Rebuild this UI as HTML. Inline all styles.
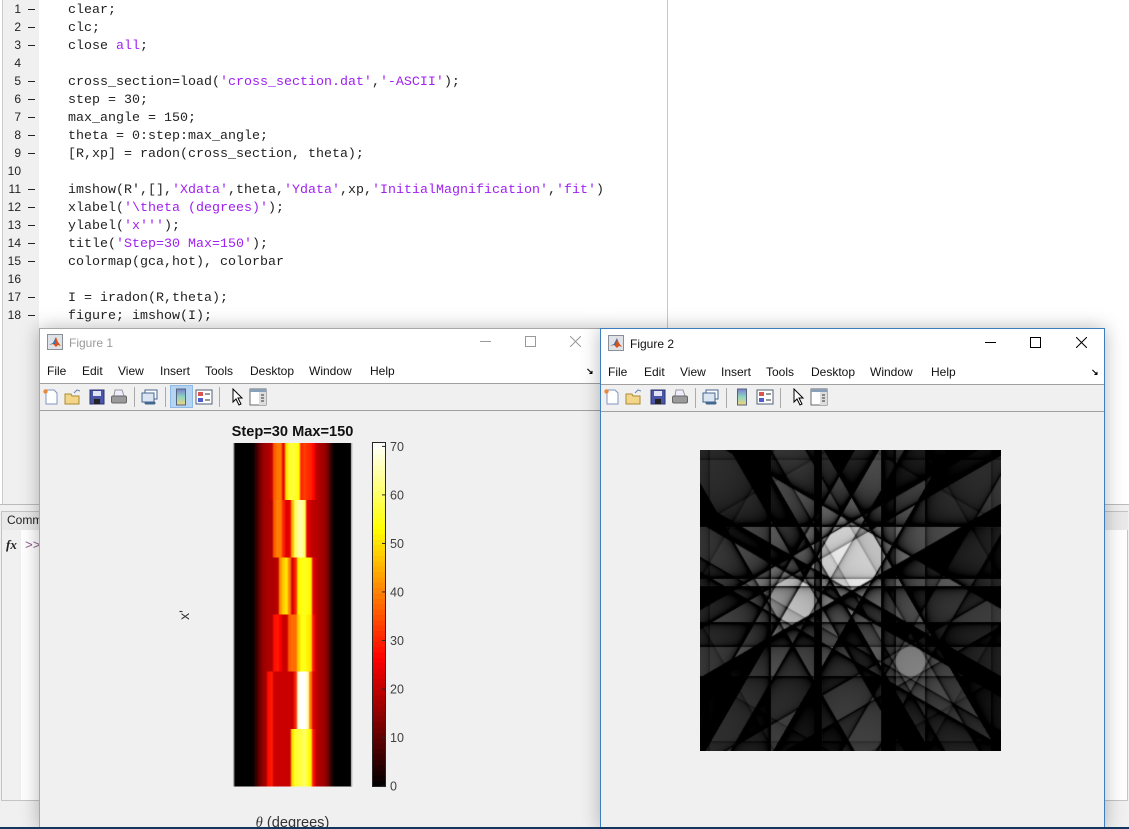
<!DOCTYPE html>
<html>
<head>
<meta charset="utf-8">
<title>MATLAB radon figures</title>
<style>
html,body{margin:0;padding:0;width:1129px;height:829px;overflow:hidden;background:#f0f0f0;font-family:"Liberation Sans",sans-serif}
.abs{position:absolute}
#editor{left:0;top:0;width:1129px;height:504px;background:#fff;border-bottom:1px solid #bbb}
#gutter{left:2px;top:0;width:36px;height:504px;background:#f0f0f0;border-left:1px solid #ccc}
.ln{position:absolute;left:0;width:21px;text-align:right;font-size:12px;line-height:18px;color:#222}
.dash{position:absolute;left:28px;width:7px;height:1px;background:#222}
.code{position:absolute;left:68px;margin-top:2px;font-family:"Liberation Mono",monospace;font-size:13.33px;line-height:18px;color:#222;white-space:pre}
.code b{font-weight:normal;color:#a020f0}
.win{position:absolute;top:328px;height:501px;background:#f0f0f0;box-sizing:border-box;box-shadow:0 0 18px rgba(0,0,0,.28)}
.bar{position:absolute;left:0;right:0;top:0;height:55px;background:#fff}
.wt{position:absolute;font-size:12px;line-height:14px;top:7px;left:29px}
.menu{position:absolute;font-size:12px;line-height:14px;color:#111;white-space:nowrap}
.sep1{position:absolute;left:0;right:0;height:1px;background:#a0a0a0}
.tsep{position:absolute;width:1px;height:20px;background:#aaa}
.ti{position:absolute;width:18px;height:18px}
</style>
</head>
<body>
<svg width="0" height="0" style="position:absolute">
<defs>
<symbol id="i-logo" viewBox="0 0 16 16"><rect x=".5" y=".5" width="15" height="15" fill="#dfe3e8" stroke="#8a8f96"/><path d="M2 11l4-2 3-6 2 5 3 4-3-1-2 2-3-3z" fill="#d9531e"/><path d="M2 11l4-2 3-6-1 7-3 0z" fill="#3a6fb0"/></symbol>
<symbol id="i-new" viewBox="0 0 18 18"><path d="M4 2h8l3 3v11H4z" fill="#fff" stroke="#7f95c0"/><circle cx="3.5" cy="3.5" r="2.2" fill="#e98a3a"/></symbol>
<symbol id="i-open" viewBox="0 0 18 18"><path d="M1 6h6l1 2h7v8H1z" fill="#f3d68a" stroke="#a98a35"/><path d="M10 5l3-3 3 1" fill="none" stroke="#6a86b8"/></symbol>
<symbol id="i-save" viewBox="0 0 18 18"><rect x="2" y="2" width="14" height="14" fill="#4a55a8" stroke="#2d3370"/><rect x="5" y="3" width="8" height="5" fill="#dfe3f5"/><rect x="6" y="11" width="6" height="5" fill="#222"/></symbol>
<symbol id="i-print" viewBox="0 0 18 18"><path d="M5 2h7l2 6H4z" fill="#eef" stroke="#999"/><rect x="1.5" y="8" width="15" height="7" rx="1.5" fill="#9a9a9a" stroke="#666"/></symbol>
<symbol id="i-link" viewBox="0 0 18 18"><rect x="4" y="2" width="12" height="9" fill="#fff" stroke="#44668f"/><rect x="1" y="5" width="12" height="9" fill="#dbe6f2" stroke="#44668f"/><path d="M5 15h8" stroke="#44668f" stroke-width="3" stroke-linecap="round"/></symbol>
<symbol id="i-cbar" viewBox="0 0 18 18"><defs><linearGradient id="cbg" x1="0" y1="0" x2="0" y2="1"><stop offset="0" stop-color="#7a7fd0"/><stop offset=".5" stop-color="#8fd6c0"/><stop offset="1" stop-color="#f4d27a"/></linearGradient></defs><rect x="4.5" y="1" width="9" height="16" fill="url(#cbg)" stroke="#56657c"/></symbol>
<symbol id="i-legend" viewBox="0 0 18 18"><rect x="1" y="2" width="16" height="14" fill="#fff" stroke="#4f5f78"/><rect x="3" y="4" width="5" height="4" fill="#d9534f"/><rect x="3" y="10" width="5" height="4" fill="#4f5fd0"/><path d="M10 6h5M10 12h5" stroke="#333"/></symbol>
<symbol id="i-arrow" viewBox="0 0 18 18"><path d="M5 1v13l3-3 3 6 2-1-3-6h4z" fill="#fff" stroke="#000"/></symbol>
<symbol id="i-dock" viewBox="0 0 18 18"><rect x="1" y="1" width="16" height="16" fill="#fff" stroke="#6a6a6a"/><rect x="1" y="1" width="16" height="3" fill="#8aa0b8"/><rect x="10" y="4" width="7" height="13" fill="#ddd"/><path d="M12 7h3M12 10h3M12 13h3" stroke="#333"/></symbol>
</defs>
</svg>

<div id="editor" class="abs"></div>
<div id="gutter" class="abs"></div>
<div class="abs" style="left:667px;top:0;width:1px;height:330px;background:#c8c8c8"></div>

<div id="code-lines">
<div class="ln" style="top:0">1</div><div class="dash" style="top:9px"></div><div class="code" style="top:0">clear;</div>
<div class="ln" style="top:18px">2</div><div class="dash" style="top:27px"></div><div class="code" style="top:18px">clc;</div>
<div class="ln" style="top:36px">3</div><div class="dash" style="top:45px"></div><div class="code" style="top:36px">close <b>all</b>;</div>
<div class="ln" style="top:54px">4</div>
<div class="ln" style="top:72px">5</div><div class="dash" style="top:81px"></div><div class="code" style="top:72px">cross_section=load(<b>'cross_section.dat'</b>,<b>'-ASCII'</b>);</div>
<div class="ln" style="top:90px">6</div><div class="dash" style="top:99px"></div><div class="code" style="top:90px">step = 30;</div>
<div class="ln" style="top:108px">7</div><div class="dash" style="top:117px"></div><div class="code" style="top:108px">max_angle = 150;</div>
<div class="ln" style="top:126px">8</div><div class="dash" style="top:135px"></div><div class="code" style="top:126px">theta = 0:step:max_angle;</div>
<div class="ln" style="top:144px">9</div><div class="dash" style="top:153px"></div><div class="code" style="top:144px">[R,xp] = radon(cross_section, theta);</div>
<div class="ln" style="top:162px">10</div>
<div class="ln" style="top:180px">11</div><div class="dash" style="top:189px"></div><div class="code" style="top:180px">imshow(R',[],<b>'Xdata'</b>,theta,<b>'Ydata'</b>,xp,<b>'InitialMagnification'</b>,<b>'fit'</b>)</div>
<div class="ln" style="top:198px">12</div><div class="dash" style="top:207px"></div><div class="code" style="top:198px">xlabel(<b>'\theta (degrees)'</b>);</div>
<div class="ln" style="top:216px">13</div><div class="dash" style="top:225px"></div><div class="code" style="top:216px">ylabel(<b>'x'''</b>);</div>
<div class="ln" style="top:234px">14</div><div class="dash" style="top:243px"></div><div class="code" style="top:234px">title(<b>'Step=30 Max=150'</b>);</div>
<div class="ln" style="top:252px">15</div><div class="dash" style="top:261px"></div><div class="code" style="top:252px">colormap(gca,hot), colorbar</div>
<div class="ln" style="top:270px">16</div>
<div class="ln" style="top:288px">17</div><div class="dash" style="top:297px"></div><div class="code" style="top:288px">I = iradon(R,theta);</div>
<div class="ln" style="top:306px">18</div><div class="dash" style="top:315px"></div><div class="code" style="top:306px">figure; imshow(I);</div>
</div>

<div class="abs" style="left:1px;top:511px;width:1127px;height:290px;background:#fff;border:1px solid #c4c4c4;box-sizing:border-box"></div>
<div class="abs" style="left:2px;top:512px;width:1126px;height:18px;background:#e9e9e9"></div>
<div class="abs" style="left:7px;top:513px;font-size:12px;line-height:15px;color:#222">Command Window</div>
<div class="abs" style="left:2px;top:530px;width:19px;height:270px;background:#f0f0f0"></div>
<div class="abs" style="left:6px;top:537px;font:italic bold 13px 'Liberation Serif',serif;color:#222">fx</div>
<div class="abs" style="left:25px;top:538px;font:13px 'Liberation Mono',monospace;color:#8a5a8a">&gt;&gt;</div>

<!-- FIGURE 1 -->
<div class="win" style="left:39px;width:561px;border:1px solid #a8a8a8;border-right:none">
  <div class="bar"></div>
  <svg class="ti" style="left:7px;top:5px;width:16px;height:16px"><use href="#i-logo"/></svg>
  <div class="wt" style="color:#9a9a9a">Figure 1</div>
  <div class="abs" style="left:440px;top:12px;width:11px;height:1px;background:#999"></div>
  <div class="abs" style="left:485px;top:7px;width:9px;height:9px;border:1px solid #999"></div>
  <svg class="abs" style="left:530px;top:7px" width="11" height="11"><path d="M0 0L11 11M11 0L0 11" stroke="#999"/></svg>
  <div class="menu" style="left:7px;top:35px">File</div>
  <div class="menu" style="left:42px;top:35px">Edit</div>
  <div class="menu" style="left:78px;top:35px">View</div>
  <div class="menu" style="left:120px;top:35px">Insert</div>
  <div class="menu" style="left:165px;top:35px">Tools</div>
  <div class="menu" style="left:210px;top:35px">Desktop</div>
  <div class="menu" style="left:269px;top:35px">Window</div>
  <div class="menu" style="left:330px;top:35px">Help</div>
  <div class="menu" style="left:546px;top:35px;font-size:9px;font-weight:bold;color:#000">↘</div>
  <div class="sep1" style="top:54px"></div>
  <div class="sep1" style="top:81px"></div>
  <svg class="ti" style="left:2px;top:59px"><use href="#i-new"/></svg>
  <svg class="ti" style="left:24px;top:59px"><use href="#i-open"/></svg>
  <svg class="ti" style="left:48px;top:59px"><use href="#i-save"/></svg>
  <svg class="ti" style="left:70px;top:59px"><use href="#i-print"/></svg>
  <div class="tsep" style="left:94px;top:58px"></div>
  <svg class="ti" style="left:101px;top:59px"><use href="#i-link"/></svg>
  <div class="tsep" style="left:125px;top:58px"></div>
  <div class="abs" style="left:130px;top:56px;width:21px;height:21px;background:#b5d4f2;border:1px solid #8fbbe6"></div>
  <svg class="ti" style="left:132px;top:59px"><use href="#i-cbar"/></svg>
  <svg class="ti" style="left:155px;top:59px"><use href="#i-legend"/></svg>
  <div class="tsep" style="left:179px;top:58px"></div>
  <svg class="ti" style="left:188px;top:59px"><use href="#i-arrow"/></svg>
  <svg class="ti" style="left:209px;top:59px"><use href="#i-dock"/></svg>
</div>

<svg id="fig1-plot" class="abs" style="left:39px;top:0" width="561" height="829">
  <defs><filter id="hblur" x="-5%" y="0" width="110%" height="100%" color-interpolation-filters="sRGB"><feGaussianBlur stdDeviation="0.9 0"/></filter></defs>
  <g id="sino-cells" filter="url(#hblur)"></g>
</svg>

<!-- FIGURE 2 -->
<div class="win" style="left:600px;width:505px;border:1px solid #3c7fc1">
  <div class="bar"></div>
  <svg class="ti" style="left:7px;top:6px;width:16px;height:16px"><use href="#i-logo"/></svg>
  <div class="wt" style="color:#111;top:8px">Figure 2</div>
  <div class="abs" style="left:384px;top:13px;width:11px;height:1px;background:#000"></div>
  <div class="abs" style="left:429px;top:8px;width:9px;height:9px;border:1px solid #000"></div>
  <svg class="abs" style="left:475px;top:8px" width="11" height="11"><path d="M0 0L11 11M11 0L0 11" stroke="#000"/></svg>
  <div class="menu" style="left:7px;top:36px">File</div>
  <div class="menu" style="left:43px;top:36px">Edit</div>
  <div class="menu" style="left:79px;top:36px">View</div>
  <div class="menu" style="left:120px;top:36px">Insert</div>
  <div class="menu" style="left:165px;top:36px">Tools</div>
  <div class="menu" style="left:210px;top:36px">Desktop</div>
  <div class="menu" style="left:269px;top:36px">Window</div>
  <div class="menu" style="left:330px;top:36px">Help</div>
  <div class="menu" style="left:490px;top:36px;font-size:9px;font-weight:bold;color:#000">↘</div>
  <div class="sep1" style="top:55px"></div>
  <div class="sep1" style="top:82px"></div>
  <svg class="ti" style="left:2px;top:59px"><use href="#i-new"/></svg>
  <svg class="ti" style="left:24px;top:59px"><use href="#i-open"/></svg>
  <svg class="ti" style="left:48px;top:59px"><use href="#i-save"/></svg>
  <svg class="ti" style="left:70px;top:59px"><use href="#i-print"/></svg>
  <div class="tsep" style="left:94px;top:59px"></div>
  <svg class="ti" style="left:101px;top:59px"><use href="#i-link"/></svg>
  <div class="tsep" style="left:125px;top:59px"></div>
  <svg class="ti" style="left:132px;top:59px"><use href="#i-cbar"/></svg>
  <svg class="ti" style="left:155px;top:59px"><use href="#i-legend"/></svg>
  <div class="tsep" style="left:179px;top:59px"></div>
  <svg class="ti" style="left:188px;top:59px"><use href="#i-arrow"/></svg>
  <svg class="ti" style="left:209px;top:59px"><use href="#i-dock"/></svg>
  <canvas id="recon" class="abs" width="301" height="301" style="left:99px;top:121px"></canvas>
</div>

<div class="abs" style="left:0;top:827px;width:1129px;height:2px;background:#12365e"></div>

<script>
// ---------- sinogram data: one row per projection angle, values read across x'
var thetaAngles = [0, 30, 60, 90, 120, 150];
var sinoRow0 = [0,0,0,0,0,0,1,6,11,15,17,18,20,36,39,39,24,50,56,57,56,53,30,33,31,30,27,20,18,17,15,11,4,0,0,0,0,0,0];
var sinoRow1 = [0,0,0,0,0,0,1,6,11,15,17,18,18,36,40,39,30,23,24,46,60,64,65,60,24,21,20,19,18,17,15,11,4,0,0,0,0,0,0];
var sinoRow2 = [0,0,0,0,0,0,1,6,11,15,17,18,18,18,20,42,48,50,40,22,30,52,54,55,54,52,24,20,18,17,15,11,4,0,0,0,0,0,0];
var sinoRow3 = [0,0,0,0,0,0,1,6,11,15,17,18,18,28,29,26,21,21,36,38,38,48,54,55,52,50,28,20,18,17,15,11,4,0,0,0,0,0,0];
var sinoRow4 = [0,0,0,0,0,0,1,6,11,15,17,28,29,21,21,21,21,21,21,21,30,68,71,71,66,40,23,20,18,17,15,11,4,0,0,0,0,0,0];
var sinoRow5 = [0,0,0,0,0,0,1,6,11,15,17,28,29,21,21,21,21,21,21,50,56,57,58,60,56,52,28,20,18,17,15,11,4,0,0,0,0,0,0];
var sinoRows = [sinoRow0, sinoRow1, sinoRow2, sinoRow3, sinoRow4, sinoRow5];
var colorbarTicks = [0, 10, 20, 30, 40, 50, 60, 70];
var colorbarLevels = 64;
var chartTitle = "Step=30 Max=150";

// ---------- reconstruction scene: [centre x, centre y, radius, density]
var discCentres = [[150,150],[151,106],[92,150],[210,211]];
var discRadii = [141,30,22,15];
var discDensities = [0.04,0.72,0.52,0.34];
var reconGain = 0.95;

var NS = "http://www.w3.org/2000/svg";
var plot = document.getElementById("fig1-plot");
var sinoGroup = document.getElementById("sino-cells");
var imgLeft = 234 - 39, imgTop = 443, imgW = 117, imgH = 343;
var cbLeft = 373 - 39, cbW = 12;
var vMax = 70.7;

function hot(v) {
  var t = Math.max(0, Math.min(1, v / vMax));
  var r = Math.min(1, t / 0.375);
  var g = Math.max(0, Math.min(1, (t - 0.375) / 0.375));
  var b = Math.max(0, Math.min(1, (t - 0.75) / 0.25));
  return "rgb(" + Math.round(r*255) + "," + Math.round(g*255) + "," + Math.round(b*255) + ")";
}
function xScale(i, n) { return imgLeft + i * imgW / n; }
function yScale(i, n) { return imgTop + i * imgH / n; }
function cbY(v) { return imgTop + imgH - v / vMax * imgH; }
function svgEl(tag, attrs) {
  var e = document.createElementNS(NS, tag);
  for (var k in attrs) e.setAttribute(k, attrs[k]);
  plot.appendChild(e);
  return e;
}

sinoRows.forEach(function (row, r) {
  row.forEach(function (v, c) {
    var x0 = xScale(c, row.length), x1 = xScale(c + 1, row.length);
    var cell = svgEl("rect", {x: x0, y: yScale(r, sinoRows.length), width: x1 - x0 + 0.3, height: imgH / sinoRows.length + 0.3, fill: hot(v), "shape-rendering": "crispEdges"});
    
    
    sinoGroup.appendChild(cell);
  });
});

for (var lv = 0; lv < colorbarLevels; lv++) {
  var lo = lv / colorbarLevels * vMax, hi = (lv + 1) / colorbarLevels * vMax;
  var seg = svgEl("rect", {x: cbLeft, y: cbY(hi), width: cbW, height: cbY(lo) - cbY(hi) + 0.4, fill: hot((lo + hi) / 2), "shape-rendering": "crispEdges"});
  
  
}
var cbBox = svgEl("rect", {x: cbLeft - 0.5, y: imgTop - 0.5, width: cbW + 1, height: imgH + 1, fill: "none", stroke: "#262626"});



colorbarTicks.forEach(function (t) {
  var y = cbY(t);
  var tick = svgEl("line", {x1: cbLeft + cbW - 3, x2: cbLeft + cbW, y1: y, y2: y, stroke: "#262626"});
  
  
  var lab = svgEl("text", {x: cbLeft + cbW + 5, y: y + 4.5, "font-size": 12.5, fill: "#404040", "font-family": "Liberation Sans, sans-serif"});
  lab.textContent = t;
  
  
});

var frameL = svgEl("line", {x1: imgLeft - .5, x2: imgLeft - .5, y1: imgTop, y2: imgTop + imgH, stroke: "#b0b0b0"});


var frameR = svgEl("line", {x1: imgLeft + imgW + .5, x2: imgLeft + imgW + .5, y1: imgTop, y2: imgTop + imgH, stroke: "#b0b0b0"});



var titleEl = svgEl("text", {x: imgLeft + imgW / 2, y: 436, "text-anchor": "middle", "font-size": 14.6, "font-weight": "bold", fill: "#111", "font-family": "Liberation Sans, sans-serif"});
titleEl.textContent = chartTitle;



var xlab = svgEl("text", {x: imgLeft + imgW / 2, y: 827, "text-anchor": "middle", "font-size": 14.6, fill: "#333", "font-family": "Liberation Sans, sans-serif"});
xlab.innerHTML = '<tspan font-family="Liberation Serif, serif" font-style="italic">\u03b8</tspan> (degrees)';



var ylab = svgEl("text", {x: 0, y: 0, "text-anchor": "middle", "font-size": 14, fill: "#333", "font-family": "Liberation Sans, sans-serif", transform: "translate(150,615) rotate(-90)"});
ylab.textContent = "x'";



// ---------- filtered back-projection for figure 2
(function () {
  var N = 301, half = 230, L = 2 * half + 1, c = 150;
  var cv = document.getElementById("recon"), ctx = cv.getContext("2d");
  var img = ctx.createImageData(N, N), sum = new Float32Array(N * N);
  var kern = [];
  for (var n = 0; n <= 300; n++) kern[n] = n === 0 ? 0.25 : (n % 2 ? -1 / (Math.PI * Math.PI * n * n) : 0);
  thetaAngles.forEach(function (deg) {
    var th = deg * Math.PI / 180, cs = Math.cos(th), sn = Math.sin(th);
    var proj = new Float32Array(L), q = new Float32Array(L), i, j;
    discRadii.forEach(function (rad, d) {
      var dx = discCentres[d][0] - c, dy = c - discCentres[d][1];
      var t0 = dx * cs + dy * sn;
      for (i = 0; i < L; i++) {
        for (var s = -0.375; s < 0.5; s += 0.25) {
          var u = i - half + s - t0, w = rad * rad - u * u;
          if (w > 0) proj[i] += 0.25 * 2 * discDensities[d] * Math.sqrt(w);
        }
      }
    });
    for (i = 0; i < L; i++) {
      if (proj[i] === 0) continue;
      for (j = Math.max(0, i - 300); j < Math.min(L, i + 301); j++) q[j] += proj[i] * kern[Math.abs(i - j)];
    }
    for (var y = 0; y < N; y++) for (var x = 0; x < N; x++) {
      var t = (x - c) * cs + (c - y) * sn + half, f = Math.floor(t), a = t - f;
      if (f >= 0 && f + 1 < L) sum[y * N + x] += q[f] * (1 - a) + q[f + 1] * a;
    }
  });
  var scale = Math.PI / thetaAngles.length * reconGain;
  for (var p = 0; p < N * N; p++) {
    var val = Math.max(0, Math.min(1, sum[p] * scale)) * 255;
    img.data[p * 4] = img.data[p * 4 + 1] = img.data[p * 4 + 2] = val;
    img.data[p * 4 + 3] = 255;
  }
  ctx.putImageData(img, 0, 0);
})();
</script>
</body>
</html>
